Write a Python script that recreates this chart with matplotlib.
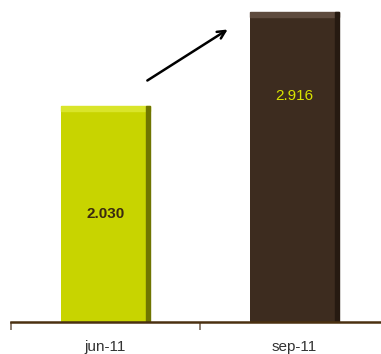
import matplotlib.pyplot as plt
from matplotlib.patches import Rectangle

plt.rcParams["font.family"] = ["Liberation Sans", "DejaVu Sans"]

categories = ["jun-11", "sep-11"]
values = [2.030, 2.916]
value_labels = ["2.030", "2.916"]

bar_colors = ["#c8d400", "#3d2c1f"]
top_colors = ["#d9e52a", "#5e4b3e"]
side_colors = ["#6f7500", "#261a11"]
label_colors = ["#3a2a10", "#d8e400"]
label_weights = ["bold", "normal"]
label_frac = [0.5, 0.73]

fig = plt.figure(figsize=(3.81, 3.54), dpi=100)
ax = fig.add_axes([11 / 381, 32 / 354, 378 / 381, 322 / 354])

x = list(range(len(categories)))
width = 0.47
bars = ax.bar(x, values, width=width, color=bar_colors, zorder=2)

# bevel: light top strip, dark right strip
for b, tc, sc in zip(bars, top_colors, side_colors):
    bx, bw, bh = b.get_x(), b.get_width(), b.get_height()
    ax.add_patch(Rectangle((bx, bh - 0.045), bw, 0.045, color=tc, zorder=3))
    ax.add_patch(Rectangle((bx + bw - 0.02, 0), 0.02, bh, color=sc, zorder=4))

for i, v in enumerate(values):
    ax.text(x[i], v * label_frac[i], value_labels[i], ha="center", va="center",
            fontsize=11, color=label_colors[i], fontweight=label_weights[i], zorder=5)

ax.set_xlim(-0.5, 1.5)
ax.set_ylim(0, 3.03)

ax.set_xticks(x)
ax.set_xticklabels(categories, fontsize=11, color="#333333")
ax.tick_params(axis="x", which="major", length=0, pad=13)
ax.set_xticks([-0.5, 0.5, 1.5], minor=True)
ax.tick_params(axis="x", which="minor", length=6, width=1.2, color="#7a6a5a", direction="out")
ax.set_yticks([])

for s in ["top", "right", "left"]:
    ax.spines[s].set_visible(False)
ax.spines["bottom"].set_color("#4a3010")
ax.spines["bottom"].set_linewidth(1.8)
ax.spines["bottom"].set_zorder(6)

# arrow showing the increase
ax.annotate("", xy=(219 / 378, 1 - 28 / 322), xytext=(134 / 378, 1 - 82 / 322),
            xycoords="axes fraction", textcoords="axes fraction",
            arrowprops=dict(arrowstyle="->", color="black", lw=1.8, mutation_scale=14))

fig.savefig("out.png", dpi=100)
